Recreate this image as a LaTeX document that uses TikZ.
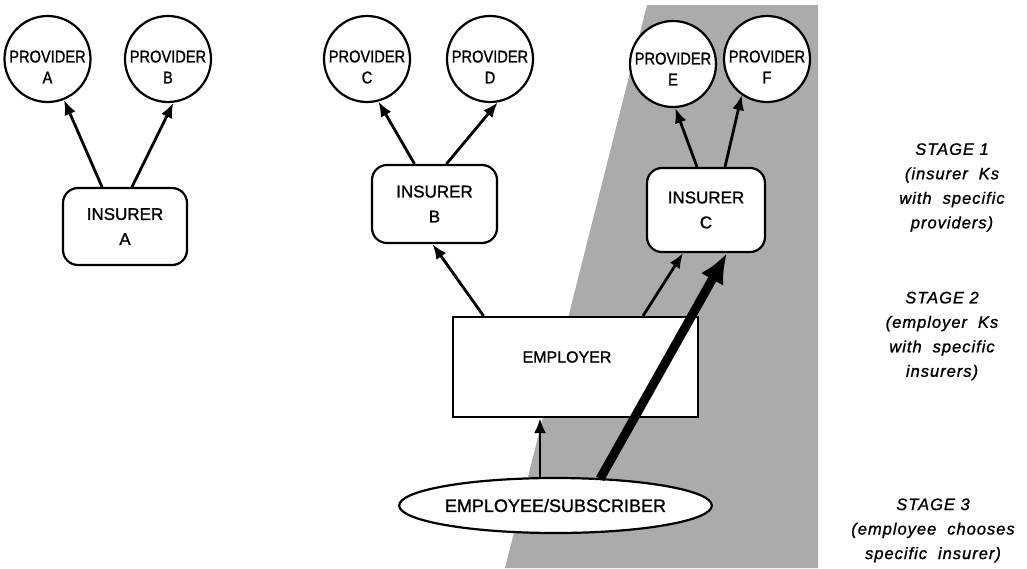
\documentclass[tikz,border=0pt]{standalone}
\usepackage{fontspec}
\setmainfont{Liberation Sans}[FakeBold=1.2]
\newfontfamily\provfont[FakeStretch=0.86,FakeBold=1.2]{Liberation Sans}
\newfontfamily\stagefont[LetterSpace=6,FakeBold=1.2]{Liberation Sans}
\usetikzlibrary{arrows.meta,shapes.geometric}
\newcommand{\wgap}{\hspace{11pt}}

\begin{document}
\begin{tikzpicture}[x=1pt,y=-1pt,
  provider/.style={circle,draw,line width=2.2pt,fill=white,minimum size=86pt,inner sep=0pt},
  provtext/.style={font=\provfont\fontsize{17}{21}\selectfont,align=center,inner sep=0pt},
  insurer/.style={rectangle,rounded corners=15pt,draw,line width=2.2pt,fill=white,inner sep=0pt,
    font=\fontsize{17}{25}\selectfont,align=center},
  employerbox/.style={rectangle,draw,line width=2.2pt,fill=white,inner sep=0pt,
    minimum width=245pt,minimum height=100pt},
  subscriber/.style={ellipse,draw,line width=2.2pt,fill=white,inner sep=0pt,
    minimum width=259pt,minimum height=55pt,font=\fontsize{18}{20}\selectfont},
  arr/.style={line width=2.8pt,-{Latex[length=15pt,width=12pt]}},
  bigarr/.style={line width=9pt,-{Latex[length=30pt,width=26pt]}},
  stage/.style={font=\stagefont\itshape\fontsize{16.5}{24.5}\selectfont,align=center,inner sep=0pt},
  shade/.style={fill=black!33}
]
\useasboundingbox (0,0) rectangle (1027,568);

% shaded band behind insurer C
\fill[shade] (647,5) -- (818,5) -- (818,568) -- (505,568) -- cycle;

% providers
\node[provider] (pa) at (47.5,59) {};
\node[provider] (pb) at (168,59) {};
\node[provider] (pc) at (367,59) {};
\node[provider] (pd) at (490,59) {};
\node[provider] (pe) at (673,64) {};
\node[provider] (pf) at (767,59) {};
\node[provtext] (tpa) at ([yshift=-8pt]pa.center) {PROVIDER\\A};
\node[provtext] (tpb) at ([yshift=-8pt]pb.center) {PROVIDER\\B};
\node[provtext] (tpc) at ([yshift=-8pt]pc.center) {PROVIDER\\C};
\node[provtext] (tpd) at ([yshift=-8pt]pd.center) {PROVIDER\\D};
\node[provtext] (tpe) at ([yshift=-5pt]pe.center) {PROVIDER\\E};
\node[provtext] (tpf) at ([yshift=-8pt]pf.center) {PROVIDER\\F};

% insurers
\node[insurer,minimum width=124pt,minimum height=77pt] (ia) at (125,226.5) {INSURER\\A};
\node[insurer,minimum width=125pt,minimum height=78pt] (ib) at (434.5,204) {INSURER\\B};
\node[insurer,minimum width=118pt,minimum height=84pt] (ic) at (706,210) {INSURER\\C};

% employer and subscriber
\node[employerbox] (em) at (575.5,367) {};
\node[font=\fontsize{16}{18}\selectfont,inner sep=0pt] (emt) at (567,357) {EMPLOYER};
\node[subscriber] (ee) at (555.5,505.5) {EMPLOYEE/SUBSCRIBER};

% stage 1 contracts
\draw[arr] ([xshift=-23pt]ia.north) -- (pa.-68);
\draw[arr] ([xshift=7pt]ia.north) -- (pb.-83);
\draw[arr] ([xshift=-20pt]ib.north) -- (pc.-75);
\draw[arr] ([xshift=12pt]ib.north) -- (pd.-80);
\draw[arr] ([xshift=-9pt]ic.north) -- (pe.-87);
\draw[arr] ([xshift=19pt]ic.north) -- (pf.-125);

% stage 2 contracts
\draw[arr] ([xshift=-92pt]em.north) -- ([xshift=-2pt]ib.south);
\draw[arr] ([xshift=67.5pt]em.north) -- ([xshift=-23pt]ic.south);

% stage 3 choices
\draw[arr] ([xshift=-15.5pt]ee.north) -- ([xshift=-35.5pt]em.south);
\draw[bigarr] ([xshift=44.5pt,yshift=-2pt]ee.north) -- ([xshift=21pt]ic.south);

% stage labels
\node[stage] (s1) at (952,187.5) {STAGE 1\\(insurer\wgap Ks\\with\wgap specific\\providers)};
\node[stage] (s2) at (942,336) {STAGE 2\\(employer\wgap Ks\\with\wgap specific\\insurers)};
\node[stage] (s3) at (933,530.5) {STAGE 3\\(employee\wgap chooses\\specific\wgap insurer)};
\end{tikzpicture}
\end{document}
